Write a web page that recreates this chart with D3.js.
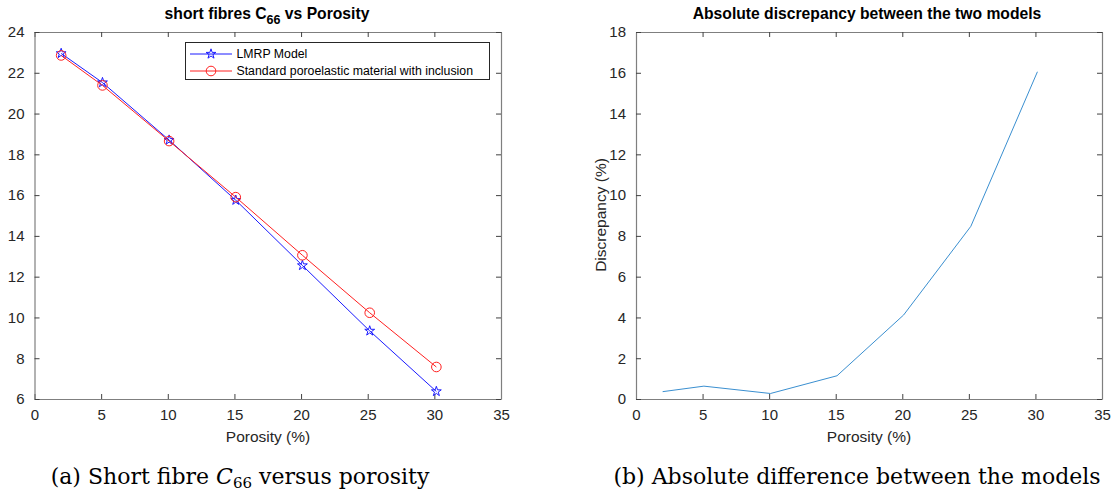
<!DOCTYPE html>
<html>
<head>
<meta charset="utf-8">
<script src="https://cdn.jsdelivr.net/npm/d3@7"></script>
<style>
  body { margin: 0; background: #fff; }
  svg { display: block; }
  .tick text { font-family: "Liberation Sans", Arial, sans-serif; }
</style>
</head>
<body>
<div id="chart"></div>
<script>
// porosity values (%)
const porosity = [2, 5.1, 10.1, 15.1, 20.1, 25.15, 30.15];
const lmrp = [22.95, 21.52, 18.7, 15.75, 12.55, 9.34, 6.37];
const standard = [22.85, 21.38, 18.65, 15.9, 13.05, 10.23, 7.57];
const discrepancy = [0.36, 0.63, 0.27, 1.14, 4.12, 8.47, 16.05];

const xTicks = [0, 5, 10, 15, 20, 25, 30, 35];
const yTicksA = [6, 8, 10, 12, 14, 16, 18, 20, 22, 24];
const yTicksB = [0, 2, 4, 6, 8, 10, 12, 14, 16, 18];

const width = 1120;
const height = 496;

const svg = d3.select("#chart")
    .append("svg")
    .attr("width", width)
    .attr("height", height);

const font = '"Liberation Sans", Arial, sans-serif';
const serif = '"DejaVu Serif", "Liberation Serif", serif';
const textColor = "#262626";
const boxColor = "#7f7f7f";

// draws a matlab-style boxed axes and returns its scales
function makeAxes(left, right, top, bottom, xDomain, yDomain, yTicks) {
    const x = d3.scaleLinear().domain(xDomain).range([left, right]);
    const y = d3.scaleLinear().domain(yDomain).range([bottom, top]);
    const g = svg.append("g");

    const tickLen = 5;
    const axBottom = g.append("g")
        .attr("transform", `translate(0,${bottom})`)
        .call(d3.axisBottom(x).tickValues(xTicks).tickSizeInner(-tickLen).tickSizeOuter(0).tickPadding(10));
    const axTop = g.append("g")
        .attr("transform", `translate(0,${top})`)
        .call(d3.axisTop(x).tickValues(xTicks).tickSizeInner(-tickLen).tickSizeOuter(0).tickFormat(""));
    const axLeft = g.append("g")
        .attr("transform", `translate(${left},0)`)
        .call(d3.axisLeft(y).tickValues(yTicks).tickSizeInner(-tickLen).tickSizeOuter(0).tickPadding(10));
    const axRight = g.append("g")
        .attr("transform", `translate(${right},0)`)
        .call(d3.axisRight(y).tickValues(yTicks).tickSizeInner(-tickLen).tickSizeOuter(0).tickFormat(""));

    [axBottom, axTop, axLeft, axRight].forEach(a => {
        a.select(".domain").attr("stroke", boxColor).attr("stroke-width", 1.2);
        a.selectAll(".tick line").attr("stroke", "#404040");
        a.selectAll(".tick text")
            .attr("fill", textColor)
            .style("font-size", "15px")
            .style("font-family", font);
    });
    axBottom.selectAll(".tick text").attr("dy", "0.72em");
    return { x, y, g };
}

// ---------- (a) short fibres C66 ----------
const A = makeAxes(34.5, 501, 32, 399, [0, 35], [6, 24], yTicksA);

const titleA = svg.append("text")
    .attr("x", 267)
    .attr("y", 19)
    .attr("text-anchor", "middle")
    .attr("font-family", font)
    .attr("font-weight", "bold")
    .attr("font-size", 15.7)
    .attr("fill", "#000");
titleA.append("tspan").text("short fibres C");
titleA.append("tspan").attr("font-size", 12.5).attr("dy", 5).text("66");
titleA.append("tspan").attr("dy", -5).text(" vs Porosity");

svg.append("text")
    .attr("x", 268)
    .attr("y", 442)
    .attr("text-anchor", "middle")
    .attr("font-family", font)
    .attr("font-size", 15.5)
    .attr("fill", textColor)
    .text("Porosity (%)");

const seriesA = [
    { name: "LMRP Model", values: lmrp, color: "#1a1aff", marker: "star" },
    { name: "Standard poroelastic material with inclusion", values: standard, color: "#ff2020", marker: "circle" }
];

const lineA = d3.line()
    .x((d, i) => A.x(porosity[i]))
    .y(d => A.y(d));

const starPath = d3.symbol().type(d3.symbolStar).size(30)();

function drawMarker(sel, s, cx, cy) {
    if (s.marker === "star") {
        sel.append("path")
            .attr("d", starPath)
            .attr("transform", `translate(${cx},${cy})`)
            .attr("fill", "none")
            .attr("stroke", s.color)
            .attr("stroke-width", 1);
    } else {
        sel.append("circle")
            .attr("cx", cx)
            .attr("cy", cy)
            .attr("r", 4.8)
            .attr("fill", "none")
            .attr("stroke", s.color)
            .attr("stroke-width", 1);
    }
}

seriesA.forEach(s => {
    A.g.append("path")
        .attr("d", lineA(s.values))
        .attr("fill", "none")
        .attr("stroke", s.color)
        .attr("stroke-width", 1);
    s.values.forEach((v, i) => drawMarker(A.g, s, A.x(porosity[i]), A.y(v)));
});

// legend
const legend = svg.append("g");
legend.append("rect")
    .attr("x", 185.5)
    .attr("y", 42.5)
    .attr("width", 304)
    .attr("height", 37)
    .attr("fill", "#fff")
    .attr("stroke", "#262626")
    .attr("stroke-width", 1);
seriesA.forEach((s, i) => {
    const ly = 54 + i * 17;
    legend.append("line")
        .attr("x1", 190).attr("x2", 232)
        .attr("y1", ly).attr("y2", ly)
        .attr("stroke", s.color)
        .attr("stroke-width", 1);
    drawMarker(legend, s, 211, ly);
    legend.append("text")
        .attr("x", 236.5)
        .attr("y", ly)
        .attr("dy", "0.35em")
        .attr("font-family", font)
        .attr("font-size", 12.3)
        .attr("fill", "#000")
        .text(s.name);
});

// caption (a)
const capA = svg.append("text")
    .attr("x", 240)
    .attr("y", 484)
    .attr("text-anchor", "middle")
    .attr("font-family", serif)
    .attr("font-size", 22)
    .attr("fill", "#000");
capA.append("tspan").text("(a) Short fibre ");
capA.append("tspan").attr("font-style", "italic").text("C");
capA.append("tspan").attr("font-size", 15).attr("dy", 4).text("66");
capA.append("tspan").attr("dy", -4).text(" versus porosity");

// ---------- (b) absolute discrepancy ----------
const B = makeAxes(636, 1102, 32, 399, [0, 35], [0, 18], yTicksB);

svg.append("text")
    .attr("x", 867)
    .attr("y", 19)
    .attr("text-anchor", "middle")
    .attr("font-family", font)
    .attr("font-weight", "bold")
    .attr("font-size", 15.7)
    .attr("fill", "#000")
    .text("Absolute discrepancy between the two models");

svg.append("text")
    .attr("x", 869)
    .attr("y", 442)
    .attr("text-anchor", "middle")
    .attr("font-family", font)
    .attr("font-size", 15.5)
    .attr("fill", textColor)
    .text("Porosity (%)");

svg.append("text")
    .attr("transform", "translate(601,215) rotate(-90)")
    .attr("text-anchor", "middle")
    .attr("dy", "0.35em")
    .attr("font-family", font)
    .attr("font-size", 15.5)
    .attr("fill", textColor)
    .text("Discrepancy (%)");

B.g.append("path")
    .attr("d", d3.line().x((d, i) => B.x(porosity[i])).y(d => B.y(d))(discrepancy))
    .attr("fill", "none")
    .attr("stroke", "#3a8fd0")
    .attr("stroke-width", 1);

// caption (b)
svg.append("text")
    .attr("x", 857)
    .attr("y", 484)
    .attr("text-anchor", "middle")
    .attr("font-family", serif)
    .attr("font-size", 22)
    .attr("fill", "#000")
    .text("(b) Absolute difference between the models");
</script>
</body>
</html>
